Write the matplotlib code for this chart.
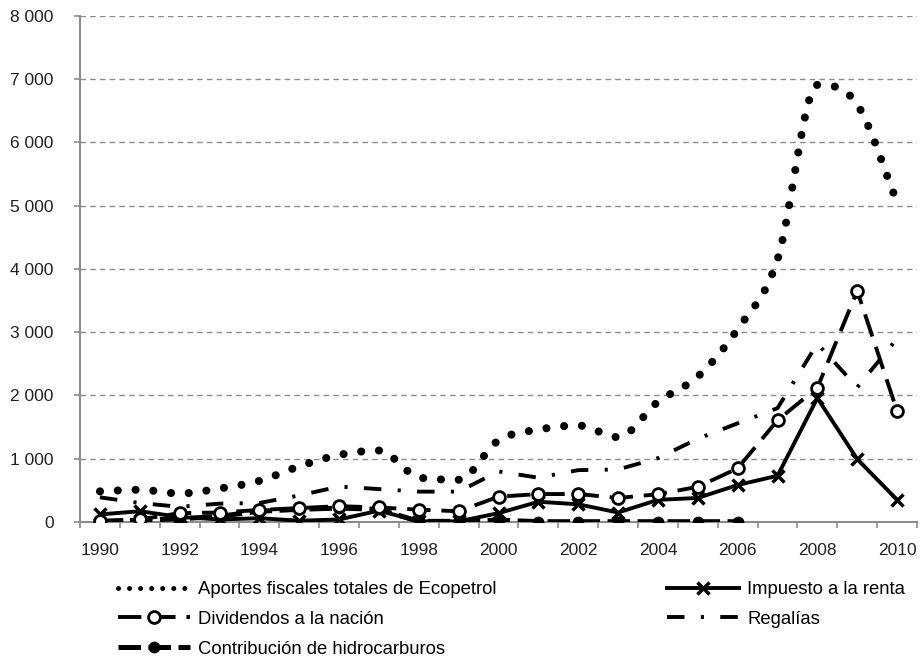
import numpy as np
import matplotlib
matplotlib.use("Agg")
import matplotlib.pyplot as plt
from matplotlib.path import Path
from matplotlib.patches import PathPatch
from matplotlib.lines import Line2D
from matplotlib.ticker import FuncFormatter, MultipleLocator, FixedLocator

plt.rcParams['font.family'] = ['Liberation Sans', 'DejaVu Sans']

# --- data (miles de millones de pesos) ---
years = np.arange(1990, 2011)
aportes = [484, 510, 450, 530, 650, 880, 1060, 1130, 705, 668, 1289,
           1460, 1526, 1342, 1900, 2300, 3050, 4150, 6910, 6600, 5058]
impuesto = [120, 170, 80, 40, 60, 20, 40, 180, 10, 10, 140,
            320, 280, 150, 350, 380, 585, 731, 1960, 994, 351]
dividendos = [20, 40, 140, 150, 190, 220, 250, 230, 195, 170, 400,
              442, 442, 380, 439, 556, 848, 1608, 2123, 3655, 1754]
regalias = [390, 300, 240, 290, 300, 420, 560, 520, 480, 480, 800,
            700, 820, 830, 1010, 1316, 1560, 1800, 2820, 2130, 2900]
contribucion = [0, 30, 50, 90, 170, 200, 220, 200, 10, 10, 30,
                5, 5, 5, 5, 5, 5, np.nan, np.nan, np.nan, np.nan]

labels = ["Aportes fiscales totales de Ecopetrol", "Impuesto a la renta",
          "Dividendos a la nación", "Regalías", "Contribución de hidrocarburos"]

GRAY = "#8c8c8c"


def smooth_path(x, y):
    # smoothed line drawn as cubic beziers through every data point
    # (tangents flattened at local peaks, like the spreadsheet output)
    x = np.asarray(x, float)
    y = np.asarray(y, float)
    n = len(x)
    d = np.diff(y) / np.diff(x)
    m = np.empty(n)
    m[0], m[-1] = d[0], d[-1]
    for i in range(1, n - 1):
        if d[i - 1] * d[i] <= 0:
            m[i] = 0.0
        else:
            m[i] = (d[i - 1] + d[i]) / 2
            lim = 3 * min(abs(d[i - 1]), abs(d[i]))
            m[i] = np.sign(m[i]) * min(abs(m[i]), lim)
    verts = [(x[0], y[0])]
    codes = [Path.MOVETO]
    for i in range(n - 1):
        h = x[i + 1] - x[i]
        verts += [(x[i] + h / 3, y[i] + m[i] * h / 3),
                  (x[i + 1] - h / 3, y[i + 1] - m[i + 1] * h / 3),
                  (x[i + 1], y[i + 1])]
        codes += [Path.CURVE4] * 3
    return Path(verts, codes)


fig = plt.figure(figsize=(9.22, 6.58), dpi=100)
ax = fig.add_axes([0.0868, 0.2067, 0.9078, 0.7690])

# Aportes: smoothed round-dot line
patch = PathPatch(smooth_path(years, aportes), fill=False, capstyle="round",
                  color="black", linewidth=5.8, linestyle=(0, (0.01, 2.2)), zorder=3)
ax.add_patch(patch)
h_aportes = Line2D([], [], color="black", linewidth=3.6, linestyle=(0, (0.01, 2.2)),
                   dash_capstyle="round")

h_imp, = ax.plot(years, impuesto, color="black", lw=2.8, marker="x",
                 ms=8, mew=2.5, zorder=4)
h_div, = ax.plot(years, dividendos, color="black", lw=2.8,
                 linestyle=(0, (6, 2.8)), marker="o", ms=8.5, mew=2,
                 mfc="white", mec="black", zorder=5)
h_reg, = ax.plot(years, regalias, color="black", lw=2.8,
                 linestyle=(0, (4.5, 4.2, 0.8, 4.2)), zorder=4)
h_con, = ax.plot(years, contribucion, color="black", lw=3.6,
                 linestyle=(0, (4.5, 1.5)), marker="o", ms=7.5, zorder=4)

ax.set_xlim(1989.5, 2010.5)
ax.set_ylim(0, 8000)

ax.yaxis.set_major_locator(MultipleLocator(1000))
ax.yaxis.set_major_formatter(FuncFormatter(lambda v, p: f"{int(v):,}".replace(",", " ")))
ax.xaxis.set_major_locator(FixedLocator(years[::2]))
ax.xaxis.set_minor_locator(FixedLocator(np.arange(1989.5, 2011, 1.0)))

ax.grid(axis="y", color=GRAY, linestyle=(0, (4, 3)), linewidth=1)
ax.set_axisbelow(True)
for s in ["top", "right"]:
    ax.spines[s].set_visible(False)
for s in ["left", "bottom"]:
    ax.spines[s].set_color(GRAY)
    ax.spines[s].set_linewidth(1.5)

ax.tick_params(axis="x", which="major", length=0, pad=15, labelsize=12.5, colors="#222222")
ax.tick_params(axis="x", which="minor", length=4, color=GRAY, width=1.2)
ax.tick_params(axis="y", length=4, color=GRAY, width=1.2, pad=15, labelsize=12.5,
               labelcolor="#222222")

handles = [h_aportes, h_div, h_con, h_imp, h_reg]
order = [labels[0], labels[2], labels[4], labels[1], labels[3]]
fig.legend(handles, order, ncol=2, loc="upper left", bbox_to_anchor=(0.128, 0.117),
           frameon=False, fontsize=13.3, handlelength=3.9, handletextpad=0.45,
           columnspacing=9.2, labelspacing=0.7, borderaxespad=0, borderpad=0)

fig.savefig("out.png", dpi=100)
